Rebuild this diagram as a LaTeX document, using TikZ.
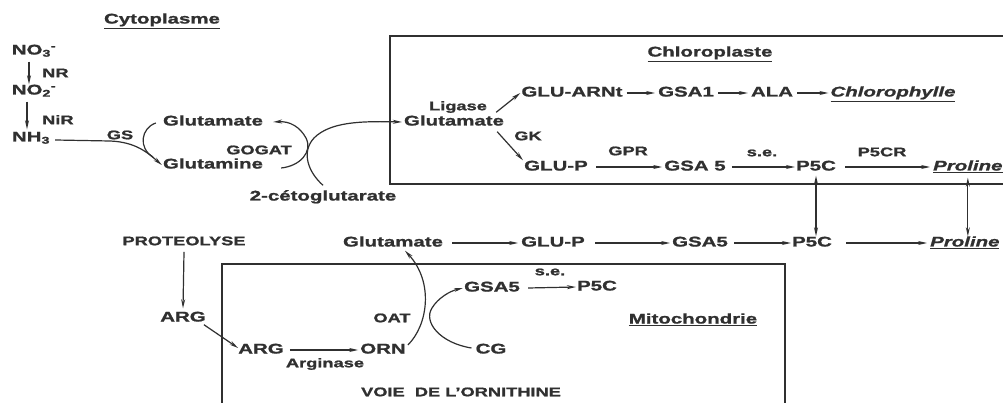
\documentclass[tikz,border=0pt]{standalone}
\usepackage{fontspec}
\newfontfamily\lab{Liberation Sans}[FakeStretch=1.46, FakeBold=1.3]
\usetikzlibrary{arrows.meta}
\definecolor{ink}{HTML}{303030}
\begin{document}
\begin{tikzpicture}[x=1pt,y=-1pt,
  txt/.style={font=\lab\bfseries\fontsize{14}{16}\selectfont, text=ink, inner sep=0pt,
              text height=10pt, text depth=3pt},
  lbl/.style={font=\lab\bfseries\fontsize{12.5}{14}\selectfont, text=ink, inner sep=0pt,
              text height=9pt, text depth=2.5pt},
  arr/.style={draw=ink, line width=1.2pt, -{Stealth[length=9pt,width=4pt]}},
  darr/.style={draw=ink, line width=1.2pt, {Stealth[length=9pt,width=4pt]}-{Stealth[length=9pt,width=4pt]}},
  ln/.style={draw=ink, line width=1.2pt},
  wall/.style={draw=ink, line width=1.3pt}]
\useasboundingbox (0,0) rectangle (1003,403);
\fill[white] (0,0) rectangle (1003,403);

% ---------- compartments ----------
\draw[wall] (1003,36) -- (390,36) -- (390,184) -- (1003,184);
\draw[wall] (222,403) -- (222,264) -- (785,264) -- (785,403);

% ---------- cytoplasm ----------
\node[txt] (cyto) at (162,20) {\underline{Cytoplasme}};
\node[txt] (no3) at (34,51) {NO\textsubscript{3}\textsuperscript{-}};
\node[lbl,anchor=west] (nr) at (42,74) {NR};
\node[txt] (no2) at (34,91) {NO\textsubscript{2}\textsuperscript{-}};
\node[lbl,anchor=west] (nir) at (42,121) {NiR};
\node[txt] (nh3) at (31,138) {NH\textsubscript{3}};
\node[lbl] (gs) at (120,136) {GS};
\node[txt] (glua) at (213,122) {Glutamate};
\node[txt] (glna) at (213,165) {Glutamine};
\node[lbl] (gogat) at (259,151) {GOGAT};
\node[txt] (ceto) at (323,197) {2-cétoglutarate};

% ---------- chloroplast ----------
\node[txt] (chl) at (710,53) {\underline{Chloroplaste}};
\node[lbl] (ligase) at (458,107) {Ligase};
\node[txt] (glub) at (454,122) {Glutamate};
\node[txt] (gluarnt) at (572,93) {GLU-ARNt};
\node[txt] (gsa1) at (686,93) {GSA1};
\node[txt] (ala) at (772,93) {ALA};
\node[txt] (chloro) at (893,93) {\textit{\underline{Chlorophylle}}};
\node[lbl] (gk) at (528,137) {GK};
\node[txt] (glup1) at (556,167) {GLU-P};
\node[lbl] (gpr) at (628,152) {GPR};
\node[txt] (gsa5a) at (695,167) {GSA 5};
\node[lbl] (se1) at (762,153) {s.e.};
\node[txt] (p5c1) at (816,167) {P5C};
\node[lbl] (p5cr) at (882,153) {P5CR};
\node[txt,anchor=west] (pro1) at (933,167) {\textit{\underline{Proline}}};

% cytoplasmic nitrogen assimilation
\draw[arr] ([xshift=-5pt,yshift=-4pt]no3.south) -- ([xshift=-5pt]no2.north);
\draw[arr] ([xshift=-7pt,yshift=-4pt]no2.south) -- ([xshift=-4pt,yshift=2pt]nh3.north);
\draw[arr] ([xshift=5pt,yshift=-2pt]nh3.east) -- (110,141)
   .. controls (136,142) and (148,153) .. ([xshift=-1pt]glna.west);
\draw[ln] ([xshift=-7pt,yshift=-1pt]glua.west) .. controls (141,128) and (138,148) .. (153,157);
\draw[arr] ([xshift=18pt,yshift=-3pt]glna.east) .. controls (300,166) and (313,152) .. (306,138)
   .. controls (300,127) and (290,121) .. ([xshift=10pt,yshift=0pt]glua.east);
\draw[arr] ([yshift=5pt]ceto.north) .. controls (308,172) and (301,152) .. (314,138)
   .. controls (330,122) and (360,121) .. ([xshift=-2pt]glub.west);

% chloroplast pathways
\draw[arr] ([xshift=-8pt,yshift=3pt]glub.north east) -- ([xshift=-1pt]gluarnt.west);
\draw[arr] ([xshift=-7pt,yshift=-3pt]glub.south east) -- ([xshift=-1pt]glup1.north west);
\draw[arr] ([xshift=4pt]gluarnt.east) -- ([xshift=-3pt]gsa1.west);
\draw[arr] ([xshift=4pt]gsa1.east) -- ([xshift=-3pt]ala.west);
\draw[arr] ([xshift=4pt]ala.east) -- ([xshift=-2pt]chloro.west);
\draw[arr] ([xshift=8pt]glup1.east) -- ([xshift=-2pt]gsa5a.west);
\draw[arr] ([xshift=6pt]gsa5a.east) -- ([xshift=-1pt]p5c1.west);
\draw[arr] ([xshift=9pt]p5c1.east) -- ([xshift=-3pt]pro1.west);

% ---------- cytosolic route ----------
\node[lbl] (proteo) at (184,242) {PROTEOLYSE};
\node[txt] (glu3) at (393,243) {Glutamate};
\node[txt] (glup2) at (553,243) {GLU-P};
\node[txt] (gsa5b) at (700,243) {GSA5};
\node[txt] (p5c2) at (812,243) {P5C};
\node[txt,anchor=west] (pro2) at (930,243) {\textit{\underline{Proline}}};

\draw[arr] ([xshift=9pt]glu3.east) -- ([xshift=-3pt]glup2.west);
\draw[arr] ([xshift=10pt]glup2.east) -- ([xshift=-2pt]gsa5b.west);
\draw[arr] ([xshift=6pt]gsa5b.east) -- ([xshift=-1pt]p5c2.west);
\draw[arr] ([xshift=14pt]p5c2.east) -- ([xshift=-3pt]pro2.west);
\draw[darr] ([yshift=-2pt]p5c1.south) -- (p5c1.south |- p5c2.north);
\draw[darr] ([yshift=-4pt]pro1.south) -- (pro1.south |- pro2.north);

% ---------- mitochondrion ----------
\node[txt] (arg1) at (183,318) {ARG};
\node[txt] (arg2) at (261,350) {ARG};
\node[txt] (orn) at (383,350) {ORN};
\node[lbl] (argin) at (325,364) {Arginase};
\node[lbl] (oat) at (392,319) {OAT};
\node[txt] (gsa5c) at (492,288) {GSA5};
\node[lbl] (se2) at (550,272) {s.e.};
\node[txt] (p5c3) at (597,287) {P5C};
\node[txt] (cg) at (491,350) {CG};
\node[txt] (mito) at (693,320) {\underline{Mitochondrie}};
\node[lbl] (voie) at (461,393) {VOIE\ \ DE L’ORNITHINE};

\draw[arr] ([yshift=-4pt]proteo.south) -- ([yshift=3pt]arg1.north);
\draw[arr] ([xshift=-2pt]arg1.south east) -- ([yshift=2pt]arg2.west);
\draw[arr] ([xshift=6pt]arg2.east) -- ([xshift=-2pt]orn.west);
\draw[arr] ([xshift=2pt,yshift=5pt]orn.east) .. controls (428,325) and (434,282) .. ([xshift=12pt,yshift=-1pt]glu3.south);
\draw[arr] ([xshift=-4pt,yshift=2pt]cg.west) .. controls (440,343) and (423,322) .. (432,308)
   .. controls (438,298) and (450,291) .. ([xshift=-1pt]gsa5c.west);
\draw[arr] ([xshift=8pt]gsa5c.east) -- ([xshift=-1pt]p5c3.west);
\end{tikzpicture}
\end{document}
